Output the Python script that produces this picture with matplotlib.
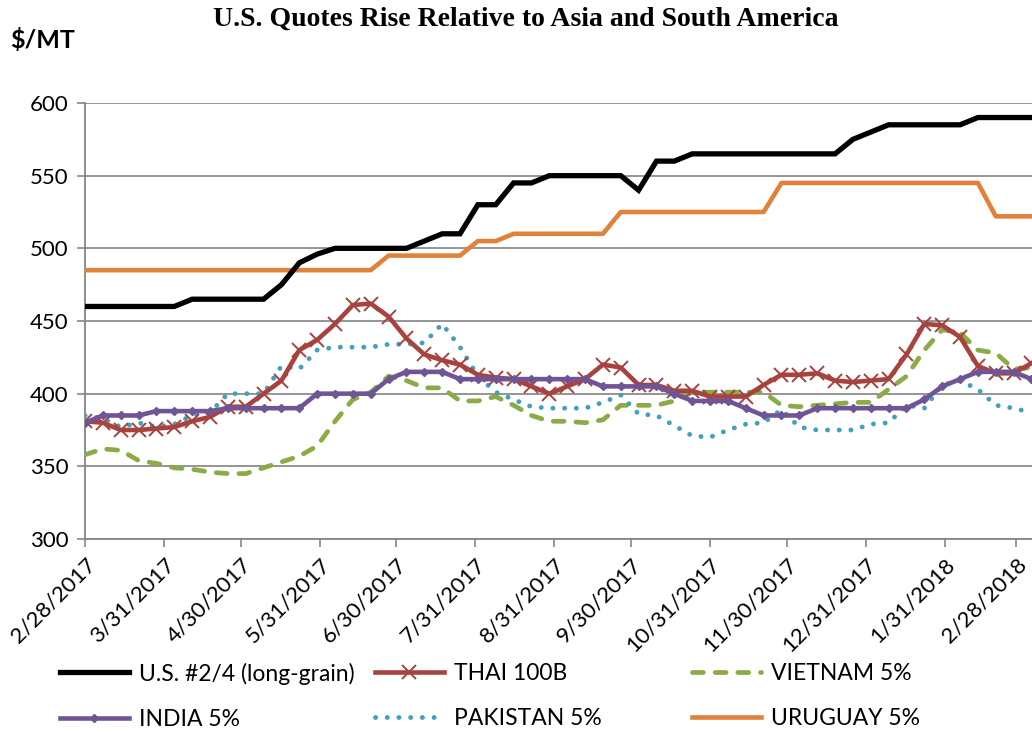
import matplotlib
matplotlib.use("Agg")
import matplotlib.pyplot as plt
import pandas as pd

plt.rcParams['font.family'] = ['Lato', 'DejaVu Sans']

# ---- data ----
start_date = "2017-02-28"
n_weeks = 54
us_long_grain = [460]*6 + [465]*5 + [475, 490, 496] + [500]*5 + [505, 510, 510, 530, 530, 545, 545] \
    + [550]*5 + [540, 560, 560] + [565]*9 + [575, 580] + [585]*5 + [590]*4
thai_100b = [381, 380, 375, 375, 376, 377, 381, 384, 391, 391, 400, 409, 430, 437, 448, 461, 462, 453,
             438, 427, 423, 420, 413, 411, 410, 405, 400, 405, 410, 420, 418, 406, 406, 402, 402, 398,
             398, 398, 406, 413, 413, 414, 409, 408, 409, 410, 427, 448, 447, 439, 419, 414, 414, 421]
vietnam_5 = [358, 362, 361, 354, 352, 349, 348, 346, 345, 345, 349, 353, 357, 364, 381, 396, 401, 412,
             409, 404, 404, 395, 395, 398, 392, 385, 381, 381, 380, 382, 392, 392, 392, 395, 401, 401,
             401, 401, 401, 392, 391, 392, 393, 394, 394, 403, 412, 430, 444, 442, 430, 428, 417, 418]
india_5 = [380, 385, 385, 385, 388, 388, 388, 388, 390, 390, 390, 390, 390, 400, 400, 400, 400, 410,
           415, 415, 415, 410, 410, 410, 410, 410, 410, 410, 410, 405, 405, 405, 405, 400, 395, 395,
           395, 390, 385, 385, 385, 390, 390, 390, 390, 390, 390, 396, 405, 410, 415, 415, 415, 410]
pakistan_5 = [385, 383, 377, 380, 377, 379, 385, 387, 400, 400, 400, 419, 417, 430, 432, 432, 432, 434,
              434, 435, 448, 432, 412, 401, 396, 391, 390, 390, 390, 394, 399, 386, 385, 378, 371, 370,
              375, 379, 380, 389, 377, 375, 375, 375, 379, 380, 392, 390, 406, 409, 403, 392, 390, 387]
uruguay_5 = [485]*17 + [495]*5 + [505]*2 + [510]*6 + [525]*9 + [545]*12 + [522]*3

tick_dates = ["2017-02-28", "2017-03-31", "2017-04-30", "2017-05-31", "2017-06-30", "2017-07-31",
              "2017-08-31", "2017-09-30", "2017-10-31", "2017-11-30", "2017-12-31", "2018-01-31",
              "2018-02-28"]
tick_labels = ["2/28/2017", "3/31/2017", "4/30/2017", "5/31/2017", "6/30/2017", "7/31/2017",
               "8/31/2017", "9/30/2017", "10/31/2017", "11/30/2017", "12/31/2017", "1/31/2018",
               "2/28/2018"]
y_ticks = [300, 350, 400, 450, 500, 550, 600]

dates = pd.date_range(start_date, periods=n_weeks, freq="7D")

fig = plt.figure(figsize=(10.32, 7.33), dpi=100)
ax = fig.add_axes([85/1032, 1-539/733, (1032-85)/1032, (539-103)/733])

c_black = "#000000"
c_thai = "#A8423E"
c_viet = "#8AAB45"
c_india = "#6F5595"
c_pak = "#41A0BE"
c_uru = "#E0823A"

l_us, = ax.plot(dates, us_long_grain, color=c_black, lw=3.8, solid_joinstyle='miter', zorder=5)
l_thai, = ax.plot(dates, thai_100b, color=c_thai, lw=3.3, marker='x', ms=10, mew=1.4, zorder=4)
l_viet, = ax.plot(dates, vietnam_5, color=c_viet, lw=3.4, linestyle=(0, (2.3, 2.5)),
                  dash_capstyle='round', zorder=3)
l_india, = ax.plot(dates, india_5, color=c_india, lw=3.3, marker='D', ms=4.5, zorder=4)
l_pak, = ax.plot(dates, pakistan_5, color=c_pak, lw=3.5, linestyle=(0, (0.01, 2.4)),
                 dash_capstyle='round', zorder=3)
l_uru, = ax.plot(dates, uruguay_5, color=c_uru, lw=3.3, zorder=4)

ax.set_ylim(300, 600)
ax.set_xlim(pd.Timestamp(start_date), pd.Timestamp(start_date) + pd.Timedelta(days=371.2))
ax.set_yticks(y_ticks)
ax.set_yticklabels([str(v) for v in y_ticks], fontsize=16)
ax.set_xticks(pd.to_datetime(tick_dates))
ax.set_xticklabels(tick_labels, rotation=45, ha='right', rotation_mode='anchor', fontsize=16)
ax.tick_params(axis='x', direction='out', length=6, color='#868686', width=1.2, pad=5)
ax.tick_params(axis='y', length=6, color='#868686', width=1.2, pad=6)
ax.grid(axis='y', color='#8C8C8C', lw=1.3)
ax.set_axisbelow(True)
for s in ['top', 'right']:
    ax.spines[s].set_visible(False)
for s in ['left', 'bottom']:
    ax.spines[s].set_color('#868686')
    ax.spines[s].set_linewidth(1.3)

fig.text(526/1032, 1-19/733, "U.S. Quotes Rise Relative to Asia and South America",
         ha='center', va='center', fontsize=20, fontweight='bold', family=['Liberation Serif', 'DejaVu Serif'])
fig.text(10/1032, 1-40/733, "$/MT", ha='left', va='center', fontsize=18, fontweight='bold')

leg_kw = dict(loc='center left', frameon=False, fontsize=16.5, handlelength=3.0, handletextpad=0.45,
              labelspacing=1.05, numpoints=1, borderaxespad=0, borderpad=0)
cols = [([l_us, l_india], ["U.S. #2/4 (long-grain)", "INDIA 5%"], 60),
        ([l_thai, l_pak], ["THAI 100B", "PAKISTAN 5%"], 375),
        ([l_viet, l_uru], ["VIETNAM 5%", "URUGUAY 5%"], 692)]
for handles, labels, xpx in cols:
    fig.legend(handles, labels, bbox_to_anchor=(xpx/1032, 1-696/733), **leg_kw)

fig.savefig("out.png", dpi=100)
